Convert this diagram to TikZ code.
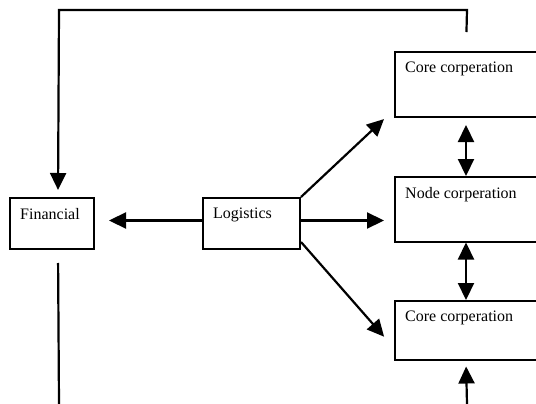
\documentclass[tikz,border=0pt]{standalone}
\usepackage{fontspec}
\setmainfont{Liberation Serif}
\usetikzlibrary{arrows.meta}
\begin{document}
\begin{tikzpicture}[x=1pt, y=-1pt,
	box/.style={draw, line width=2pt, inner sep=0pt},
	txt/.style={anchor=north west, inner sep=0pt, xshift=11pt, yshift=-11pt, font=\fontsize{16}{19}\selectfont},
	arr/.style={line width=2.2pt, -{Triangle[length=17pt,width=16pt]}},
	darr/.style={line width=2.2pt, {Triangle[length=17pt,width=16pt]}-{Triangle[length=17pt,width=16pt]}}]
	\clip (0,0) rectangle (536,404);

	%Kaesten
	\node[box, minimum width=84pt, minimum height=51pt, label={[txt]north west:Financial}] (fin) at (52,223.5) {};
	\node[box, minimum width=97pt, minimum height=51pt, label={[txt]north west:Logistics}] (log) at (251.5,223.5) {};
	\node[box, minimum width=170pt, minimum height=65pt, label={[txt]north west:Core corperation}] (core1) at (480,84.5) {};
	\node[box, minimum width=170pt, minimum height=64.5pt, label={[txt]north west:Node corperation}] (node) at (480,209.25) {};
	\node[box, minimum width=170pt, minimum height=59pt, label={[txt]north west:Core corperation}] (core2) at (480,330.5) {};

	\coordinate (topright) at (467,10);
	\coordinate (topleft) at (59,10);
	\coordinate (botleft) at (59,404);
	\coordinate (botright) at (467,404);

	%Logistics nach aussen
	\draw[arr, shorten >=14pt] ([yshift=3pt]log.west) -- ([yshift=3pt]fin.east);
	\draw[arr, shorten >=10pt] ([yshift=3pt]log.east) -- ([yshift=3pt]log.east -| node.west);
	\draw[arr, shorten >=13.7pt] (log.north east) -- ([yshift=8.3pt]core1.south west);
	\draw[arr, shorten >=15pt] ([yshift=8pt]log.south east) -- ([yshift=13pt]core2.south west);

	%zwischen den Kooperationen
	\draw[darr, shorten <=7pt] ([xshift=72pt]core1.south west) -- ([xshift=72pt]node.north west);
	\draw[darr] ([xshift=72pt]node.south west) -- ([xshift=72pt]core2.north west);
	\draw[arr, shorten >=5.5pt] (botright) -- ([xshift=72pt]core2.south west);

	%Rueckfuehrung
	\draw[arr, shorten <=19pt, shorten >=7pt] ([xshift=72pt]core1.north west) -- (topright) -- (topleft) -- ([xshift=49pt]fin.north west);
	\draw[line width=2.2pt, shorten <=13pt] ([xshift=49pt]fin.south west) -- (botleft);
\end{tikzpicture}
\end{document}
